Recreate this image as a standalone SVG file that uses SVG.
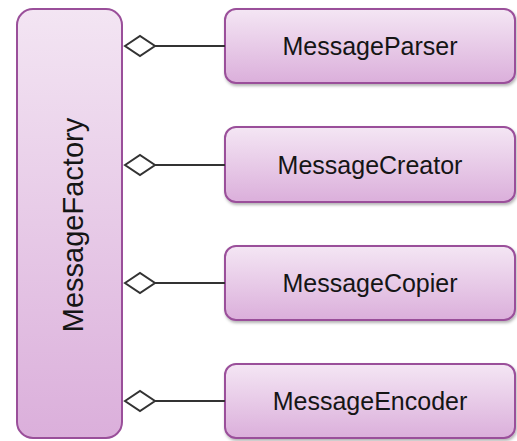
<svg xmlns="http://www.w3.org/2000/svg" width="517" height="441" viewBox="0 0 517 441">
  <defs>
    <linearGradient id="fillTall" x1="0" y1="0" x2="0" y2="1">
      <stop offset="0" stop-color="#f3e5f3"/>
      <stop offset="1" stop-color="#dbafdb"/>
    </linearGradient>
    <linearGradient id="fillBox" x1="0" y1="0" x2="0" y2="1">
      <stop offset="0" stop-color="#f4e6f4"/>
      <stop offset="1" stop-color="#dbafdb"/>
    </linearGradient>
    <filter id="shadow" x="-5%" y="-10%" width="110%" height="130%">
      <feDropShadow dx="1" dy="2" stdDeviation="1.5" flood-color="#000" flood-opacity="0.3"/>
    </filter>
  </defs>
  <style>
    .node { stroke: #9a4f9a; stroke-width: 2; }
    .label { font-family: "Liberation Sans", Arial, sans-serif; font-size: 25px; fill: #151515; text-anchor: middle; }
    .label.big { font-size: 29px; }
    .link { stroke: #333; stroke-width: 2; fill: none; }
    .diamond { stroke: #333; stroke-width: 2; fill: #fff; stroke-linejoin: miter; }
  </style>

  <rect width="517" height="441" fill="#fff"/>

  <g id="MessageFactory">
    <rect class="node" x="17" y="9" width="105" height="429" rx="16" fill="url(#fillTall)"/>
    <text class="label big" transform="translate(83,225) rotate(-90)" x="0" y="0">MessageFactory</text>
  </g>

  <g id="MessageParser">
    <rect class="node" x="225" y="9" width="290" height="74" rx="11" fill="url(#fillBox)" filter="url(#shadow)"/>
    <text class="label" x="370" y="55">MessageParser</text>
  </g>

  <g id="MessageCreator">
    <rect class="node" x="225" y="127" width="290" height="75" rx="11" fill="url(#fillBox)" filter="url(#shadow)"/>
    <text class="label" x="370" y="174">MessageCreator</text>
  </g>

  <g id="MessageCopier">
    <rect class="node" x="225" y="246" width="290" height="74" rx="11" fill="url(#fillBox)" filter="url(#shadow)"/>
    <text class="label" x="370" y="292">MessageCopier</text>
  </g>

  <g id="MessageEncoder">
    <rect class="node" x="225" y="364" width="290" height="74" rx="11" fill="url(#fillBox)" filter="url(#shadow)"/>
    <text class="label" x="370" y="410">MessageEncoder</text>
  </g>

  <g id="connectors">
    <line class="link" x1="155" y1="46" x2="225" y2="46"/>
    <polygon class="diamond" points="125,46 140,36 155,46 140,56"/>
    <line class="link" x1="155" y1="165" x2="225" y2="165"/>
    <polygon class="diamond" points="125,165 140,155 155,165 140,175"/>
    <line class="link" x1="155" y1="283" x2="225" y2="283"/>
    <polygon class="diamond" points="125,283 140,273 155,283 140,293"/>
    <line class="link" x1="155" y1="401" x2="225" y2="401"/>
    <polygon class="diamond" points="125,401 140,391 155,401 140,411"/>
  </g>
</svg>
